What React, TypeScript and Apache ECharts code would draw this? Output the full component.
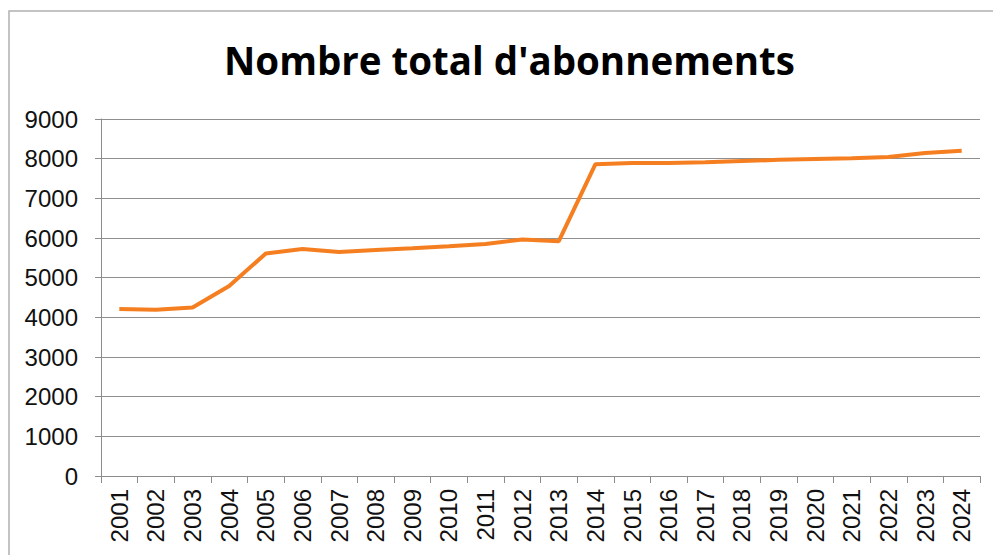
import React, { useEffect, useRef } from "react";
import * as echarts from "echarts";

const years = [
  "2001", "2002", "2003", "2004", "2005", "2006", "2007", "2008", "2009", "2010", "2011", "2012",
  "2013", "2014", "2015", "2016", "2017", "2018", "2019", "2020", "2021", "2022", "2023", "2024",
];
const subscriptions = [
  4210, 4190, 4250, 4790, 5610, 5720, 5650, 5700, 5740, 5790, 5850, 5960,
  5920, 7860, 7890, 7890, 7910, 7940, 7970, 7990, 8010, 8040, 8140, 8200,
];
const titleText = "Nombre total d'abonnements";

export default function App() {
  const ref = useRef<HTMLDivElement>(null);
  useEffect(() => {
    if (!ref.current) return;
    const chart = echarts.init(ref.current, null, { renderer: "svg" });
    chart.setOption({
      animation: false,
      backgroundColor: "#ffffff",
      title: {
        text: titleText,
        left: 219,
        top: 35,
        textStyle: {
          fontFamily: "Open Sans",
          fontWeight: "bold",
          fontSize: 38.5,
          color: "#000000",
        },
      },
      graphic: [
        {
          type: "rect",
          shape: { x: 9, y: 11, width: 1000, height: 600 },
          style: { fill: "none", stroke: "#b0b0b0", lineWidth: 1.5 },
          silent: true,
        },
      ],
      grid: { left: 101, right: 13, top: 119, bottom: 79 },
      xAxis: {
        type: "category",
        data: years,
        boundaryGap: true,
        axisLine: { show: true, lineStyle: { color: "#8c8c8c", width: 1 } },
        axisTick: { show: true, length: 7, alignWithLabel: false, lineStyle: { color: "#8c8c8c" } },
        axisLabel: {
          rotate: 90,
          interval: 0,
          margin: 13,
          fontFamily: "Liberation Sans",
          fontSize: 24,
          color: "#111111",
        },
      },
      yAxis: {
        type: "value",
        min: 0,
        max: 9000,
        interval: 1000,
        axisLine: { show: true, lineStyle: { color: "#8c8c8c", width: 1 } },
        axisTick: { show: true, length: 6, inside: false, lineStyle: { color: "#8c8c8c" } },
        splitLine: { show: true, lineStyle: { color: "#8f8f8f", width: 1 } },
        axisLabel: {
          margin: 23,
          fontFamily: "Liberation Sans",
          fontSize: 24,
          color: "#111111",
          formatter: (v: number) => String(v),
        },
      },
      series: [
        {
          type: "line",
          data: subscriptions,
          symbol: "none",
          smooth: false,
          lineStyle: { color: "#f57f20", width: 4 },
        },
      ],
    });
    return () => chart.dispose();
  }, []);
  return (
    <div
      ref={ref}
      style={{ position: "absolute", left: 0, top: 0, width: 993, height: 555 }}
    />
  );
}
